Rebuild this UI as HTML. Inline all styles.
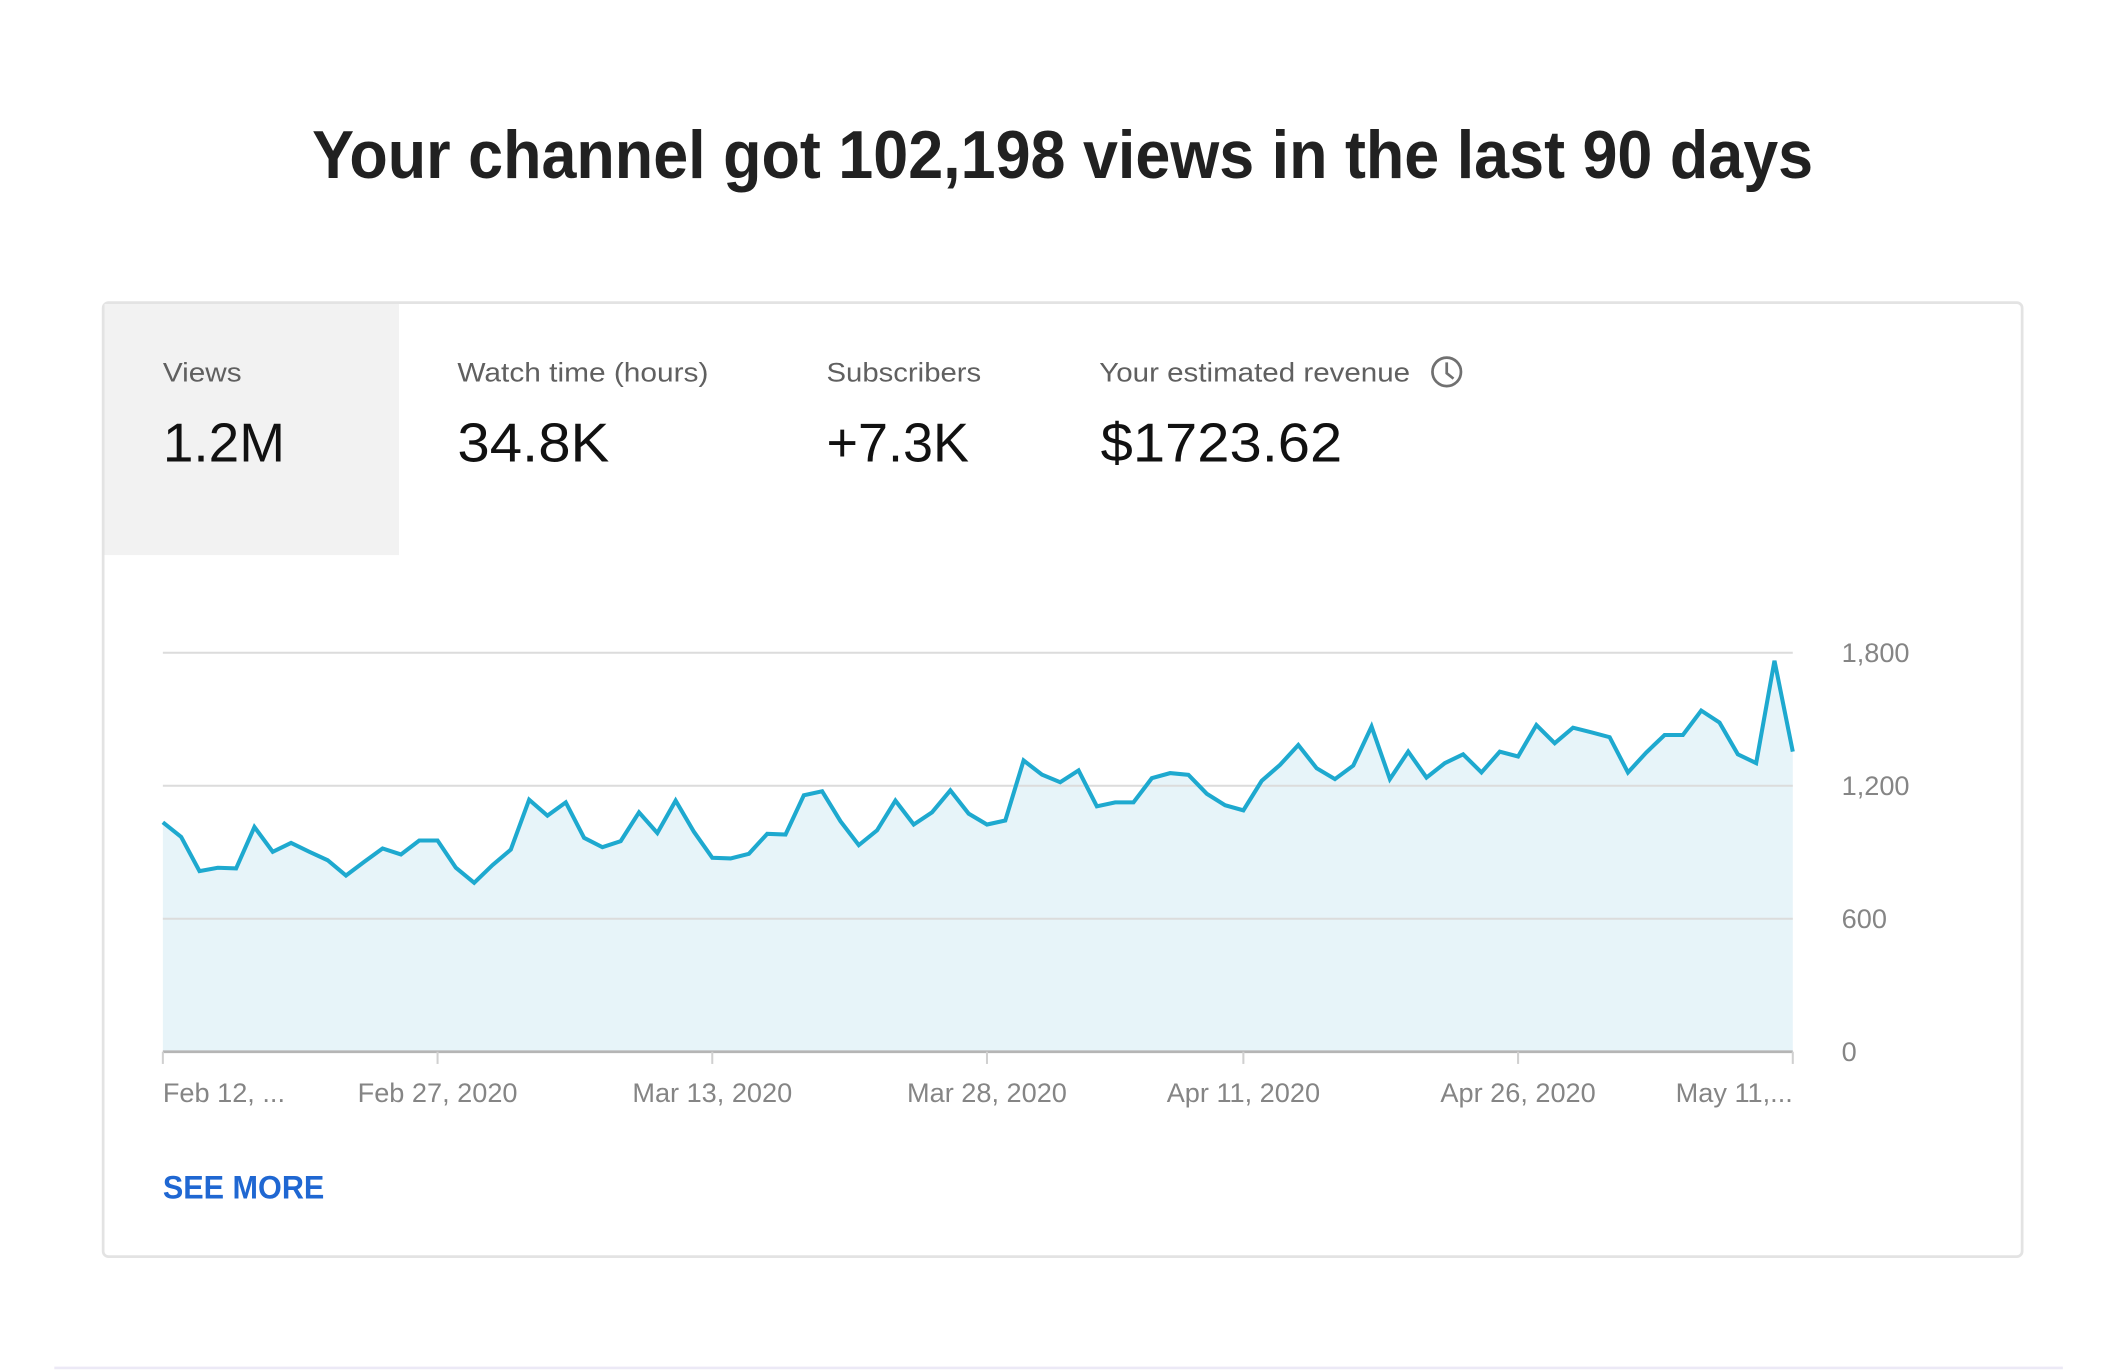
<!DOCTYPE html>
<html><head><meta charset="utf-8"><style>
html,body{margin:0;padding:0;background:#fff;width:2128px;height:1372px;overflow:hidden}
svg{display:block;font-family:"Liberation Sans",sans-serif}
</style></head><body>
<svg id="root" width="2128" height="1372" viewBox="0 0 1568 1011" preserveAspectRatio="none" xmlns="http://www.w3.org/2000/svg">
<rect x="0" y="0" width="1568" height="1011" fill="#fff"/>
<line x1="40" y1="1008" x2="1520" y2="1008" stroke="#ece9f6" stroke-width="2"/>
<text x="230" y="131" font-size="50" font-weight="bold" fill="#212121" textLength="1106" lengthAdjust="spacingAndGlyphs">Your channel got 102,198 views in the last 90 days</text>
<rect x="76" y="223" width="1414" height="703" rx="4" fill="#fff" stroke="#e3e3e3" stroke-width="2"/>
<rect x="77" y="224" width="217" height="185" fill="#f2f2f2"/>
<g fill="#606060" font-size="20">
<text x="120" y="281" textLength="58" lengthAdjust="spacingAndGlyphs">Views</text>
<text x="337" y="281" textLength="185" lengthAdjust="spacingAndGlyphs">Watch time (hours)</text>
<text x="609" y="281" textLength="114" lengthAdjust="spacingAndGlyphs">Subscribers</text>
<text x="810" y="281" textLength="229" lengthAdjust="spacingAndGlyphs">Your estimated revenue</text>
</g>
<g fill="none" stroke="#707070" stroke-width="2">
<circle cx="1066" cy="274" r="10.5"/><path d="M1066 267 V275 L1071 279"/>
</g>
<g fill="#111" font-size="40">
<text x="120" y="340" textLength="90" lengthAdjust="spacingAndGlyphs">1.2M</text>
<text x="337" y="340" textLength="112" lengthAdjust="spacingAndGlyphs">34.8K</text>
<text x="609" y="340" textLength="105" lengthAdjust="spacingAndGlyphs">+7.3K</text>
<text x="811" y="340" textLength="178" lengthAdjust="spacingAndGlyphs">$1723.62</text>
</g>
<g id="chart"></g>
<text x="120" y="883" font-size="24" font-weight="bold" fill="#1f67d2" textLength="119" lengthAdjust="spacingAndGlyphs">SEE MORE</text>
</svg>
<script>
const viewsValues=[1035,969,815,830,827,1014,902,942,902,864,795,857,917,890,953,953,830,762,842,912,1137,1065,1125,965,923,950,1080,987,1133,992,875,872,893,983,980,1157,1175,1040,932,999,1133,1025,1080,1179,1074,1025,1043,1314,1250,1216,1269,1107,1125,1125,1234,1257,1249,1164,1112,1089,1222,1294,1384,1279,1230,1291,1467,1230,1354,1237,1302,1342,1260,1354,1332,1474,1392,1462,1441,1419,1260,1350,1429,1429,1539,1485,1342,1302,1764,1354];
const yTicks=[0,600,1200,1800];
const yTickLabels=["0","600","1,200","1,800"];
const xTickIndex=[0,15,30,45,59,74,89];
const xTickLabels=["Feb 12, ...","Feb 27, 2020","Mar 13, 2020","Mar 28, 2020","Apr 11, 2020","Apr 26, 2020","May 11,..."];

const NS="http://www.w3.org/2000/svg";
const g=document.getElementById('chart');
const X0=120,X1=1321,Y0=775,Y1=481,VMAX=1800;
const xs=i=>X0+i*(X1-X0)/(viewsValues.length-1);
const ys=v=>Y0-(v/VMAX)*(Y0-Y1);
function mk(tag,attrs){const e=document.createElementNS(NS,tag);for(const k in attrs)e.setAttribute(k,attrs[k]);g.appendChild(e);return e;}

let d='M'+xs(0)+' '+ys(viewsValues[0]);
for(let i=1;i<viewsValues.length;i++)d+=' L'+xs(i).toFixed(2)+' '+ys(viewsValues[i]).toFixed(2);
const area=mk('path',{d:d+' L'+xs(viewsValues.length-1)+' '+Y0+' L'+X0+' '+Y0+' Z',fill:'#e7f4f9'});



yTicks.forEach((t,k)=>{
  if(t>0){const l=mk('line',{x1:X0,x2:X1,y1:ys(t),y2:ys(t),stroke:'#dcdcdc','stroke-width':1.5});
  
  }
  const tx=mk('text',{x:1357,y:ys(t)+7,'font-size':20,fill:'#858585'});
  tx.textContent=yTickLabels[k];
  
  
});
const ax=mk('line',{x1:X0,x2:X1,y1:Y0,y2:Y0,stroke:'#b5b5b5','stroke-width':2});



xTickIndex.forEach((ix,k)=>{
  const x=xs(ix);
  const tk=mk('line',{x1:x,x2:x,y1:Y0,y2:Y0+9,stroke:'#d0d0d0','stroke-width':1.5});
  
  
  const anchor=k===0?'start':(k===xTickIndex.length-1?'end':'middle');
  const tx=mk('text',{x:x,y:812,'font-size':20,fill:'#858585','text-anchor':anchor});
  tx.textContent=xTickLabels[k];
  
  
});

const line=mk('path',{d:d,fill:'none',stroke:'#1ea9cf','stroke-width':3,'stroke-linejoin':'miter'});


</script>
</body></html>
